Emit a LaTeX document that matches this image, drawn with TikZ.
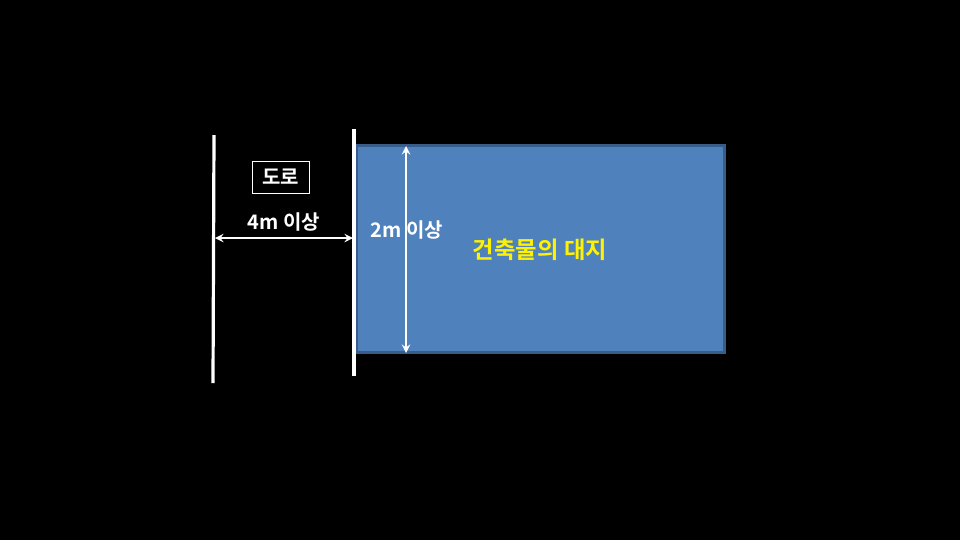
\documentclass[tikz,border=0pt]{standalone}
\usepackage{fontspec}
\setmainfont{Noto Sans CJK KR}[BoldFont={Noto Sans CJK KR Bold}]
\usepackage{tikz}
\definecolor{siteblue}{HTML}{4F81BD}
\definecolor{siteedge}{HTML}{385D8A}
\tikzset{
  roadline/.style={white,line width=2.4pt},
  dimarrow/.style={white,line width=1.8pt,<->,>=stealth},
  label/.style={text=white,font=\bfseries\fontsize{15}{18}\selectfont,inner sep=1pt}
}
\begin{document}
\begin{tikzpicture}[x=0.75pt,y=-0.75pt]
\fill[black] (0,0) rectangle (960,540);
\useasboundingbox (0,0) rectangle (960,540);
% The site of the building.
\node[draw=siteedge,fill=siteblue,line width=1.8pt,minimum width=368*0.75pt,
  minimum height=207*0.75pt,inner sep=0pt] (site) at (540.5,249) {};
\node[text=yellow,font=\bfseries\fontsize{17.5}{20}\selectfont] (sitename) at (540,250) {건축물의 대지};
% The two edges of the road.
\coordinate (la) at (214,135);
\coordinate (lb) at (213,383);
\coordinate (ra) at (354,129);
\coordinate (rb) at (354,376);
\draw[roadline] (la)--(lb);
\draw[roadline] (ra)--(rb);
\node[draw=white,line width=0.6pt,minimum width=57*0.75pt,minimum height=32*0.75pt,
  label] (road) at (280.5,177) {도로};
% Road width.
\coordinate (wl) at (215,238);
\coordinate (wr) at (353,238);
\draw[dimarrow] (wl)--(wr);
\node[label] (roadw) at (284,222) {4m 이상};
% Contact length with the road.
\coordinate (ct) at (406,146);
\coordinate (cb) at (406,353);
\draw[dimarrow] (ct)--(cb);
\node[label] (contact) at (407,230) {2m 이상};
\end{tikzpicture}
\end{document}
